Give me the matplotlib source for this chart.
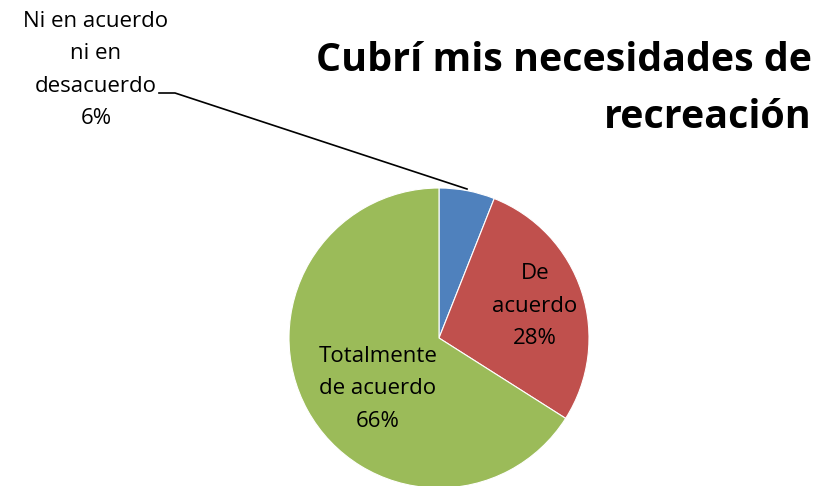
import matplotlib
matplotlib.use("Agg")
import matplotlib.pyplot as plt

categories = ["Ni en acuerdo\nni en\ndesacuerdo", "De\nacuerdo", "Totalmente\nde acuerdo"]
values = [6, 28, 66]
colors = ["#4F81BD", "#C0504D", "#9BBB59"]
title = "Cubrí mis necesidades de\nrecreación"

W, H = 835, 486
fig = plt.figure(figsize=(W / 100, H / 100), dpi=100)
ax = fig.add_axes([0, 0, 1, 1])

cx, cy, r = 439, H - 338, 150
wedges, _ = ax.pie(values, colors=colors, startangle=90, counterclock=False,
                   center=(cx, cy), radius=r, frame=True,
                   wedgeprops=dict(edgecolor="white", linewidth=0.8))
ax.set_xlim(0, W)
ax.set_ylim(0, H)
ax.axis("off")

font = "Open Sans"
fs = 16
ls = 1.72
ax.text(96, H - 70, f"{categories[0]}\n{values[0]}%", ha="center", va="center",
        fontsize=fs, family=font, linespacing=ls)
ax.text(535, H - 306, f"{categories[1]}\n{values[1]}%", ha="center", va="center",
        fontsize=fs, family=font, linespacing=ls)
ax.text(378, H - 389, f"{categories[2]}\n{values[2]}%", ha="center", va="center",
        fontsize=fs, family=font, linespacing=ls)

# leader line
ax.plot([159, 175, 467], [H - 93, H - 93, H - 189], color="black", lw=1.2)

ax.text(812, H - 89, title, ha="right", va="center", fontsize=28.4,
        fontweight="bold", family=font, linespacing=1.58)

fig.savefig("out.png", dpi=100)
